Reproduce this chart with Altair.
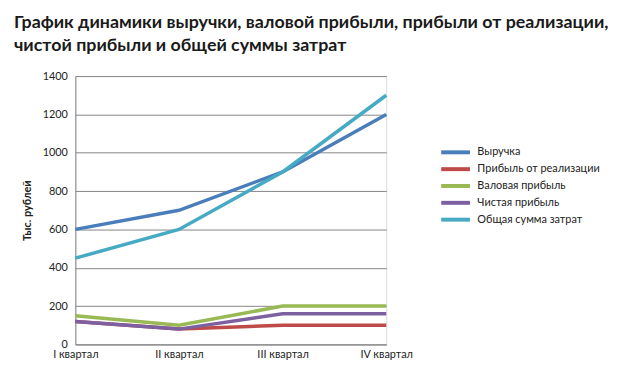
import altair as alt
import pandas as pd

quarters = ["I квартал", "II квартал", "III квартал", "IV квартал"]
series = ["Выручка", "Прибыль от реализации", "Валовая прибыль", "Чистая прибыль", "Общая сумма затрат"]
revenue = [600, 700, 900, 1200]
sales_profit = [120, 80, 100, 100]
gross_profit = [150, 100, 200, 200]
net_profit = [120, 80, 160, 160]
total_costs = [450, 600, 900, 1300]
colors = ["#4a7ebb", "#be4b48", "#98b954", "#7d60a0", "#46aac5"]

rows = []
for name, vals in zip(series, [revenue, sales_profit, gross_profit, net_profit, total_costs]):
    for q, v in zip(quarters, vals):
        rows.append({"Квартал": q, "Серия": name, "Значение": v})
df = pd.DataFrame(rows)

chart = alt.Chart(df).mark_line(strokeWidth=3.5).encode(
    x=alt.X("Квартал:N", sort=quarters,
            scale=alt.Scale(type="point", padding=0),
            axis=alt.Axis(title=None, labelAngle=0, ticks=False, grid=False,
                          domainColor="#868686", labelFont="Lato", labelFontSize=11,
                          labelColor="#222", labelPadding=4)),
    y=alt.Y("Значение:Q", scale=alt.Scale(domain=[0, 1400]),
            axis=alt.Axis(title="Тыс. рублей", values=[0, 200, 400, 600, 800, 1000, 1200, 1400],
                          format="d",
                          ticks=False, gridColor="#868686", domainColor="#868686",
                          labelFont="Lato", labelFontSize=11, labelColor="#222", labelPadding=8,
                          titleFont="Lato", titleFontSize=11, titleFontWeight="bold",
                          titleColor="#222", titlePadding=10)),
    color=alt.Color("Серия:N", sort=series,
                    scale=alt.Scale(domain=series, range=colors),
                    legend=alt.Legend(title=None, orient="none", legendX=376, legendY=69,
                                      symbolType="M-2.5,0H2.5", symbolStrokeWidth=4, symbolSize=135,
                                      labelFont="Lato", labelFontSize=11, labelColor="#222",
                                      rowPadding=1, labelOffset=14)),
).properties(
    width=314, height=271,
    title=alt.TitleParams(
        ["График динамики выручки, валовой прибыли, прибыли от реализации,",
         "чистой прибыли и общей суммы затрат"],
        anchor="start", frame="group", dx=-62, offset=15,
        font="Lato", fontSize=18, fontWeight="bold", color="#1a1a1a", lineHeight=24),
    autosize=alt.AutoSizeParams(type="none"),
    padding={"left": 68, "top": 67, "right": 232, "bottom": 16},
).configure_view(stroke=None).configure(background="white")

chart.save("out.html", embed_options={"renderer": "svg", "actions": False})
